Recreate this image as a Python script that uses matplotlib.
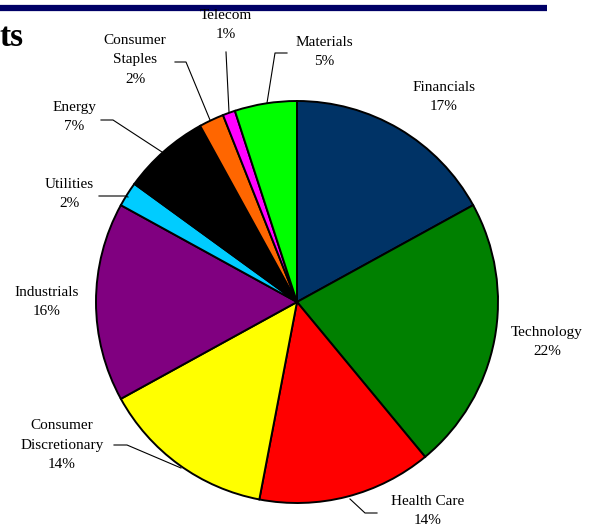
import numpy as np
import matplotlib.pyplot as plt

sectors = ['Financials', 'Technology', 'Health Care', 'Consumer\nDiscretionary',
           'Industrials', 'Utilities', 'Energy', 'Consumer\nStaples', 'Telecom', 'Materials']
weights = [17, 22, 14, 14, 16, 2, 7, 2, 1, 5]
colors = ['#003366', '#008000', '#FF0000', '#FFFF00', '#800080',
          '#00CCFF', '#000000', '#FF6600', '#FF00FF', '#00FF00']

W, H = 590, 529
fig = plt.figure(figsize=(W / 100, H / 100), dpi=100)
ax = fig.add_axes([0, 0, 1, 1])

def py(y):
    # convert pixel row (top down) to axes y
    return H - y

cx, cy, r = 297, 302, 201
ax.pie(weights, colors=colors, startangle=90, counterclock=False,
       center=(cx, py(cy)), radius=r, frame=True,
       wedgeprops=dict(edgecolor='black', linewidth=1.4))
ax.set_xlim(0, W)
ax.set_ylim(0, H)
ax.axis('off')

# label text positions (pixel coords) and leader lines
label_pos = {
    'Financials': (444, 97),
    'Technology': (547, 342),
    'Health Care': (428, 511),
    'Consumer\nDiscretionary': (62, 445),
    'Industrials': (47, 302),
    'Utilities': (69, 194),
    'Energy': (74, 117),
    'Consumer\nStaples': (135, 60),
    'Telecom': (226, 25),
    'Materials': (324, 52),
}
leaders = {
    'Health Care': [(377, 513), (365, 513), (350, 499)],
    'Consumer\nDiscretionary': [(114, 445), (127, 445), (181, 468)],
    'Utilities': [(99, 196), (125, 196), (128, 197)],
    'Energy': [(101, 120), (113, 120), (162, 152)],
    'Consumer\nStaples': [(175, 62), (186, 62), (210, 120)],
    'Telecom': [(226, 52), (229, 112)],
    'Materials': [(287, 53), (275, 53), (267, 103)],
}

font = dict(family=['Liberation Serif', 'DejaVu Serif'], size=11)
for name, w in zip(sectors, weights):
    x, y = label_pos[name]
    ax.text(x, py(y), f'{name}\n{w}%', ha='center', va='center',
            linespacing=1.65, **font)
    if name in leaders:
        pts = np.array(leaders[name], dtype=float)
        ax.plot(pts[:, 0], H - pts[:, 1], color='black', lw=0.8)

# header rule and clipped title
ax.plot([0, 547], [py(8), py(8)], color='#000066', lw=4.5, solid_capstyle='butt')
ax.text(0, py(38), 'ts', ha='left', va='center', fontweight='bold',
        family=['Liberation Serif', 'DejaVu Serif'], size=24)

fig.savefig('out.png', dpi=100)
